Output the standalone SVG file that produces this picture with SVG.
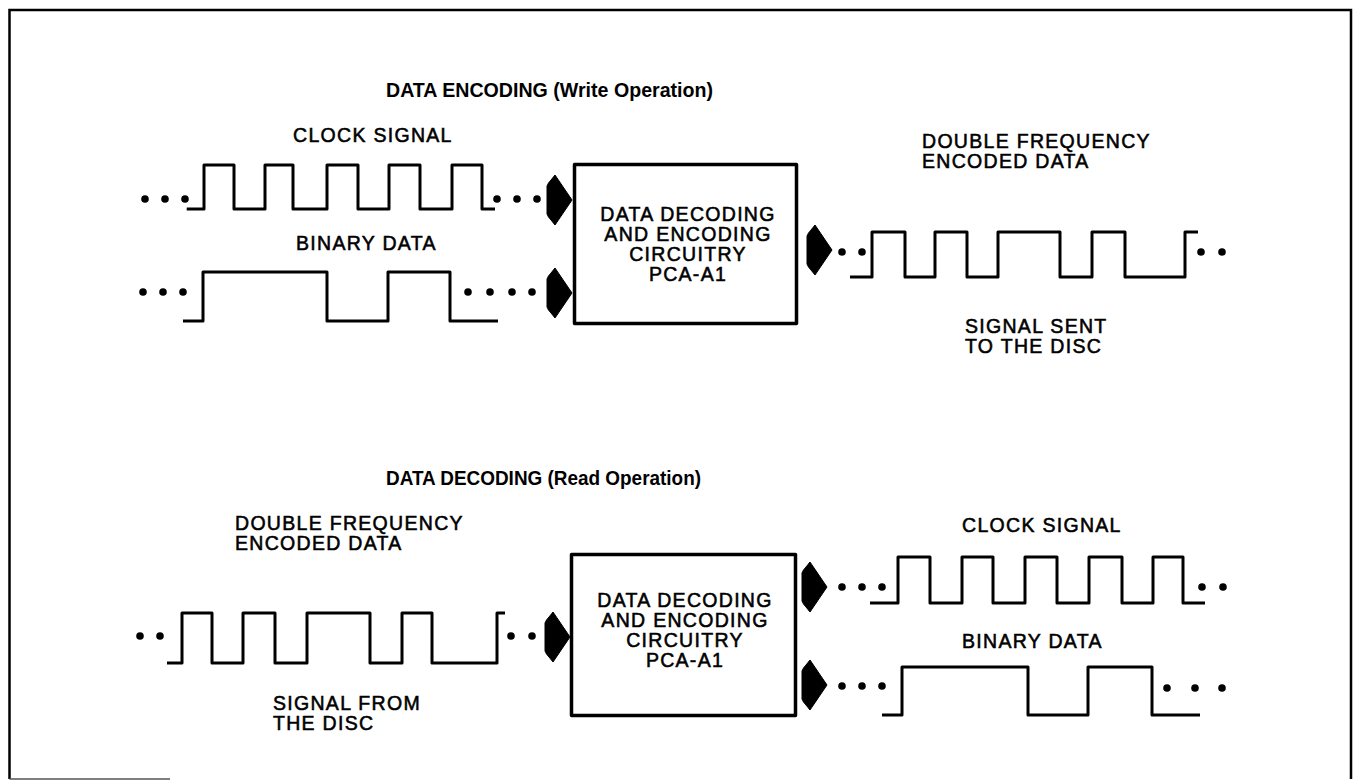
<svg xmlns="http://www.w3.org/2000/svg" width="1353" height="780" viewBox="0 0 1353 780">
  <style>
    .lbl { font-family: "Liberation Sans", Arial, sans-serif; font-size: 19.5px; letter-spacing: 1.3px; fill: #000; stroke: #000; stroke-width: 0.55px; }
    .ttl { font-family: "Liberation Sans", Arial, sans-serif; font-size: 21px; font-weight: bold; fill: #000; }
    .box { fill: #fff; stroke: #000; stroke-width: 3.5; stroke-linejoin: round; }
    .wave { fill: none; stroke: #000; stroke-width: 3; stroke-linejoin: round; stroke-linecap: butt; }
    .frame { fill: none; stroke: #000; stroke-width: 2.5; }
  </style>
  <defs>
    <!-- fat block arrow, tip at the origin, pointing right -->
    <path id="blk" d="M-25,-14 Q-24,-17 -21,-20 L-17,-25 L0,0 L-17,25 L-21,20 Q-24,17 -25,14 Z" fill="#000" stroke="#000" stroke-width="1" stroke-linejoin="round"/>
    <circle id="dot" r="3.8" fill="#000"/>
  </defs>

  <rect width="1353" height="780" fill="#fff"/>

  <!-- page frame -->
  <g id="frame">
    <path class="frame" d="M9.5,779 V10 H1351 V779"/>
    <path d="M9.5,779 H170" stroke="#555" stroke-width="1.5" fill="none"/>
  </g>

  <!-- section headings -->
  <g id="headings">
    <text class="ttl" x="386" y="97" textLength="327" lengthAdjust="spacingAndGlyphs">DATA ENCODING (Write Operation)</text>
    <text class="ttl" x="386" y="485" textLength="315" lengthAdjust="spacingAndGlyphs">DATA DECODING (Read Operation)</text>
  </g>

  <!-- ===== write path ===== -->
  <g id="enc-clock">
    <text class="lbl" x="293" y="142">CLOCK SIGNAL</text>
    <use href="#dot" x="145" y="199"/><use href="#dot" x="165" y="199"/><use href="#dot" x="185" y="199"/>
    <path class="wave" d="M186.7,209 H204 V165 H234 V209 H265 V165 H293 V209 H327 V165 H358 V209 H389 V165 H420 V209 H452 V165 H482 V209 H495"/>
    <use href="#dot" x="497" y="199"/><use href="#dot" x="517" y="199"/><use href="#dot" x="537" y="199"/>
  </g>

  <g id="enc-binary">
    <text class="lbl" x="296" y="250">BINARY DATA</text>
    <use href="#dot" x="143" y="292"/><use href="#dot" x="163" y="292"/><use href="#dot" x="183" y="292"/>
    <path class="wave" d="M183,321 H203 V272 H327 V321 H388 V272 H450 V321 H498"/>
    <use href="#dot" x="468" y="292"/><use href="#dot" x="490" y="292"/><use href="#dot" x="512" y="292"/><use href="#dot" x="532" y="292"/>
  </g>

  <g id="enc-circuit">
    <rect class="box" x="574.5" y="164.5" width="222" height="159"/>
    <text class="lbl" text-anchor="middle"><tspan x="688" y="220.5">DATA DECODING</tspan><tspan x="688" y="240.5">AND ENCODING</tspan><tspan x="688" y="260.5">CIRCUITRY</tspan><tspan x="688" y="280.5">PCA-A1</tspan></text>
  </g>

  <g id="enc-output">
    <text class="lbl"><tspan x="922" y="147.5">DOUBLE FREQUENCY</tspan><tspan x="922" y="167.5">ENCODED DATA</tspan></text>
    <use href="#dot" x="842" y="252"/><use href="#dot" x="862" y="252"/>
    <path class="wave" d="M850,277 H872 V232 H905 V277 H935 V232 H967 V277 H998 V232 H1060 V277 H1092 V232 H1125 V277 H1185 V232 H1198"/>
    <use href="#dot" x="1201" y="252"/><use href="#dot" x="1222" y="252"/>
    <text class="lbl"><tspan x="965" y="333">SIGNAL SENT</tspan><tspan x="965" y="353">TO THE DISC</tspan></text>
  </g>

  <!-- ===== read path ===== -->
  <g id="dec-input">
    <text class="lbl"><tspan x="235" y="530">DOUBLE FREQUENCY</tspan><tspan x="235" y="550">ENCODED DATA</tspan></text>
    <use href="#dot" x="140" y="636"/><use href="#dot" x="160" y="636"/>
    <path class="wave" d="M167,663 H182 V613 H212 V663 H243 V613 H275 V663 H307 V613 H370 V663 H402 V613 H432 V663 H497 V613 H505"/>
    <use href="#dot" x="511" y="636"/><use href="#dot" x="532" y="636"/>
    <text class="lbl"><tspan x="273" y="710">SIGNAL FROM</tspan><tspan x="273" y="730">THE DISC</tspan></text>
  </g>

  <g id="dec-circuit">
    <rect class="box" x="571.5" y="554.5" width="224" height="161"/>
    <text class="lbl" text-anchor="middle"><tspan x="685" y="607">DATA DECODING</tspan><tspan x="685" y="627">AND ENCODING</tspan><tspan x="685" y="647">CIRCUITRY</tspan><tspan x="685" y="667">PCA-A1</tspan></text>
  </g>

  <g id="dec-clock">
    <text class="lbl" x="962" y="532">CLOCK SIGNAL</text>
    <use href="#dot" x="842" y="587"/><use href="#dot" x="862" y="587"/><use href="#dot" x="882" y="587"/>
    <path class="wave" d="M870,603 H898 V557 H930 V603 H962 V557 H993 V603 H1025 V557 H1057 V603 H1089 V557 H1122 V603 H1153 V557 H1183 V603 H1205"/>
    <use href="#dot" x="1202" y="587"/><use href="#dot" x="1223" y="587"/>
  </g>

  <g id="dec-binary">
    <text class="lbl" x="962" y="648">BINARY DATA</text>
    <use href="#dot" x="842" y="686"/><use href="#dot" x="862" y="686"/><use href="#dot" x="882" y="686"/>
    <path class="wave" d="M882,715 H902 V667 H1028 V715 H1088 V667 H1152 V715 H1200"/>
    <use href="#dot" x="1167" y="688"/><use href="#dot" x="1195" y="688"/><use href="#dot" x="1222" y="688"/>
  </g>

  <!-- block arrows into and out of the circuitry -->
  <g id="connectors">
    <use href="#blk" x="572" y="200"/>
    <use href="#blk" x="572" y="293"/>
    <use href="#blk" x="832" y="250"/>
    <use href="#blk" x="570" y="637"/>
    <use href="#blk" x="827" y="587"/>
    <use href="#blk" x="827" y="685"/>
  </g>
</svg>
